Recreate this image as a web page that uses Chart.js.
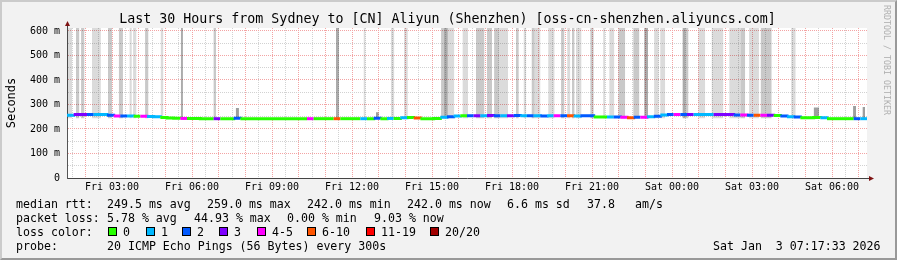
<!DOCTYPE html>
<html><head><meta charset="utf-8">
<script src="https://cdn.jsdelivr.net/npm/chart.js@4.4.1/dist/chart.umd.min.js"></script>
<style>
html,body{margin:0;padding:0;background:#f2f2f2;}
#pg{position:relative;width:897px;height:260px;overflow:hidden;font-family:'DejaVu Sans Mono',monospace;color:#000}
#frame{position:absolute;left:0;top:0;width:897px;height:260px;box-sizing:border-box;border:2px solid;border-color:#cbcbcb #999 #999 #cbcbcb;pointer-events:none}
#c{position:absolute;left:0;top:0}
.t{position:absolute;white-space:pre;font-size:11.6px;line-height:14px}
#title{position:absolute;left:0;top:11px;width:895px;text-align:center;font-size:13.3px;line-height:16px;white-space:pre}
#ylab{position:absolute;left:-39px;top:95px;width:100px;text-align:center;font-size:12px;line-height:16px;transform:rotate(-90deg)}
#mark{position:absolute;left:827px;top:55px;width:120px;text-align:center;font-size:8.3px;line-height:10px;color:#b0b0b0;transform:rotate(90deg);white-space:pre}
.box{position:absolute;width:7px;height:7px;border:1px solid #000}
</style></head>
<body>
<div id="pg">
  <canvas id="c" width="897" height="260"></canvas>
  <div id="title">Last 30 Hours from Sydney to [CN] Aliyun (Shenzhen) [oss-cn-shenzhen.aliyuncs.com]</div>
  <div id="ylab">Seconds</div>
  <div id="mark">RRDTOOL / TOBI OETIKER</div>
  <div id="legend"></div>
  <div id="frame"></div>
</div>
<script>
/* time axis: hours since Fri 00:00, one median sample every 15 min */
const start=1.3125, step=0.25;
const xLabelHours=[3,6,9,12,15,18,21,24,27,30];
const xLabels=['Fri 03:00','Fri 06:00','Fri 09:00','Fri 12:00','Fri 15:00','Fri 18:00','Fri 21:00','Sat 00:00','Sat 03:00','Sat 06:00'];
const yTicks=[0,50,100,150,200,250,300,350,400,450,500,550,600];

const lossLabels=['0','1','2','3','4-5','6-10','11-19','20/20'];
const lossColors=['#26ff00','#00b8ff','#0059ff','#7e00ff','#ff00ff','#ff5500','#ff0000','#a10000'];

/* median rtt (ms) */
const median=[
 256,259,259,259,259,259,256,253,253,253, 252,252,251,250,247,245,244,243,243,243,
 242,242,242,242,242,244,242,242,242,242, 242,242,242,242,242,242,242,242,242,242,
 242,242,242,242,242,242,244,242,243,243, 246,247,245,242,242,243,248,250,253,254,
 254,254,254,255,254,254,254,255,254,254, 254,253,254,254,254,254,253,254,254,249,
 249,249,249,248,246,248,248,250,252,257, 259,259,259,259,259,259,259,259,259,259,
 257,257,256,256,256,256,255,253,250,249, 246,246,247,246,242,242,242,242,242,242];
/* loss bucket index per sample (into lossLabels) */
const loss=[
 1,3,3,2,1,1,2,4,2,1, 0,4,1,1,0,0,0,4,0,0,
 0,0,3,0,0,2,0,0,0,0, 0,0,0,0,0,0,4,0,0,0,
 5,0,0,0,1,0,2,0,1,0, 1,0,5,0,0,0,1,2,1,0,
 2,3,1,3,2,1,3,2,1,2, 1,2,1,4,2,5,1,2,2,0,
 0,1,2,4,5,2,4,1,2,1, 2,4,2,3,1,1,1,3,3,3,
 2,4,2,5,4,3,0,2,1,2, 0,0,0,1,0,0,0,0,2,1];

/* smoke: [from h, to h] spans reaching past the top, by density */
const smokeLight=[[1.31,1.50],[2.25,2.58],[3.66,3.74],[3.79,3.91],[4.83,4.92],[12.44,12.50],[13.46,13.58],[13.95,14.09],
 [15.59,15.83],[16.15,16.35],[17.51,17.85],[18.44,18.53],[18.84,19.06],[19.36,19.59],[20.07,20.18],[20.40,20.60],
 [21.42,21.49],[21.65,21.83],[23.33,23.50],[23.56,23.74],[24.99,25.24],[25.49,25.92],[26.15,26.58],[26.89,27.26],[28.47,28.64]];
const smokeMid=[[1.65,1.77],[1.84,1.96],[2.85,3.00],[3.26,3.41],[4.24,4.36],[6.81,6.90],[15.34,15.45],[16.65,16.96],
 [17.06,17.25],[17.33,17.51],[18.15,18.25],[18.74,18.84],[19.84,19.96],[20.25,20.34],[20.94,21.06],[21.99,22.24],
 [22.55,22.77],[24.52,24.61],[26.58,26.74],[27.33,27.74]];
const smokeDark=[[5.58,5.66],[11.40,11.51],[15.45,15.59],[22.96,23.10],[24.40,24.52]];
/* short smoke: [from h, to h, top ms] */
const smokeShort=[[7.64,7.76,286],[12.90,13.00,268],[29.32,29.51,288],[30.79,30.90,294],[31.15,31.24,290]];
const smokeBase=244, smokeTop=700;

const end=start+median.length*step;

function smokePts(list){
  const pts=[];
  list.forEach(b=>{const top=b[2]||smokeTop;
    pts.push({x:b[0],y:smokeBase},{x:b[0],y:top},{x:b[1],y:top},{x:b[1],y:smokeBase});});
  return pts;
}
function smokeSet(list,c){
  return {data:smokePts(list),borderColor:'transparent',borderWidth:0,pointRadius:0,
    backgroundColor:c,fill:{target:{value:smokeBase},above:c,below:c},tension:0};
}

const medPts=median.map((v,i)=>({x:start+i*step,y:v}));
medPts.push({x:end,y:median[median.length-1]});

/* legend text */
const legendRows=[
 [[16,'median rtt:'],[107,'249.5 ms avg'],[207,'259.0 ms max'],[307,'242.0 ms min'],[407,'242.0 ms now'],[507,'6.6 ms sd'],[587,'37.8'],[635,'am/s']],
 [[16,'packet loss:'],[107,'5.78 % avg'],[194,'44.93 % max'],[287,'0.00 % min'],[374,'9.03 % now']],
 [[16,'loss color:']],
 [[16,'probe:'],[107,'20 ICMP Echo Pings (56 Bytes) every 300s'],[713,'Sat Jan  3 07:17:33 2026']]
];
const boxX=[108,146,182,219,257,307,366,430];
const lg=document.getElementById('legend');
let html='';
legendRows.forEach((r,i)=>r.forEach(([x,s])=>{html+=`<div class="t" style="left:${x}px;top:${197+i*14}px">${s}</div>`;}));
lossLabels.forEach((l,i)=>{
  html+=`<div class="box" style="left:${boxX[i]}px;top:227px;background:${lossColors[i]}"></div>`;
  html+=`<div class="t" style="left:${boxX[i]+15}px;top:225px">${l}</div>`;
});
lg.innerHTML=html;

const plotBg={id:'plotBg',beforeDraw(ch){const {ctx,chartArea:a}=ch;ctx.save();ctx.fillStyle='#fff';
  ctx.fillRect(a.left,a.top,a.right-a.left,a.bottom-a.top);ctx.restore();}};
const axisArrows={id:'axisArrows',afterDraw(ch){const {ctx,chartArea:a}=ch;ctx.save();
  ctx.strokeStyle='#444';ctx.lineWidth=1;ctx.beginPath();
  ctx.moveTo(a.right,a.bottom+0.5);ctx.lineTo(a.right+3,a.bottom+0.5);
  ctx.moveTo(a.left+0.5,a.top);ctx.lineTo(a.left+0.5,a.top-3);ctx.stroke();
  ctx.fillStyle='#7f1414';ctx.beginPath();
  ctx.moveTo(a.right+2,a.bottom-2);ctx.lineTo(a.right+7,a.bottom+0.5);ctx.lineTo(a.right+2,a.bottom+3);ctx.fill();
  ctx.beginPath();ctx.moveTo(a.left-2,a.top-2);ctx.lineTo(a.left+0.5,a.top-7);ctx.lineTo(a.left+3,a.top-2);ctx.fill();
  ctx.restore();}};

const red='#f3a4a4', grey='#d2d2d2', tickFont={family:'DejaVu Sans Mono',size:10};
new Chart(document.getElementById('c'),{
  type:'line',
  data:{datasets:[
    {data:medPts,stepped:true,borderWidth:3,pointRadius:0,fill:false,borderColor:lossColors[0],
     segment:{borderColor:ctx=>lossColors[loss[Math.min(ctx.p0DataIndex,loss.length-1)]]}},
    smokeSet(smokeShort,'rgba(0,0,0,0.38)'),
    smokeSet(smokeDark,'rgba(0,0,0,0.33)'),
    smokeSet(smokeMid,'rgba(0,0,0,0.21)'),
    smokeSet(smokeLight,'rgba(0,0,0,0.14)')
  ]},
  plugins:[plotBg,axisArrows],
  options:{
    responsive:false,devicePixelRatio:1,animation:false,
    layout:{padding:{top:28,right:30,left:0,bottom:0}},
    plugins:{legend:{display:false},tooltip:{enabled:false},title:{display:false}},
    scales:{
      x:{type:'linear',min:start,max:end,
        afterFit:s=>{s.height=82;},
        afterBuildTicks:s=>{const t=[];for(let h=1.5;h<end;h+=0.5)t.push({value:h});s.ticks=t;},
        grid:{color:c=>c.tick&&Number.isInteger(c.tick.value)?red:grey,lineWidth:1,drawTicks:false},
        border:{color:'#444',width:1,dash:[1,1]},
        ticks:{autoSkip:false,maxRotation:0,minRotation:0,padding:3,color:'#000',font:tickFont,
          callback:v=>{const k=xLabelHours.indexOf(v);return k<0?'':xLabels[k];}}},
      y:{min:0,max:612,
        afterFit:s=>{s.width=67;},
        afterBuildTicks:s=>{s.ticks=yTicks.map(v=>({value:v}));},
        grid:{color:c=>c.tick&&c.tick.value%100===0?red:grey,lineWidth:1,drawTicks:false},
        border:{color:'#555',width:1,dash:[1,1]},
        ticks:{autoSkip:false,padding:7,color:'#000',font:tickFont,
          callback:v=>v%100!==0?'':(v===0?'0':v+' m')}}
    }
  }
});
</script>
</body></html>
